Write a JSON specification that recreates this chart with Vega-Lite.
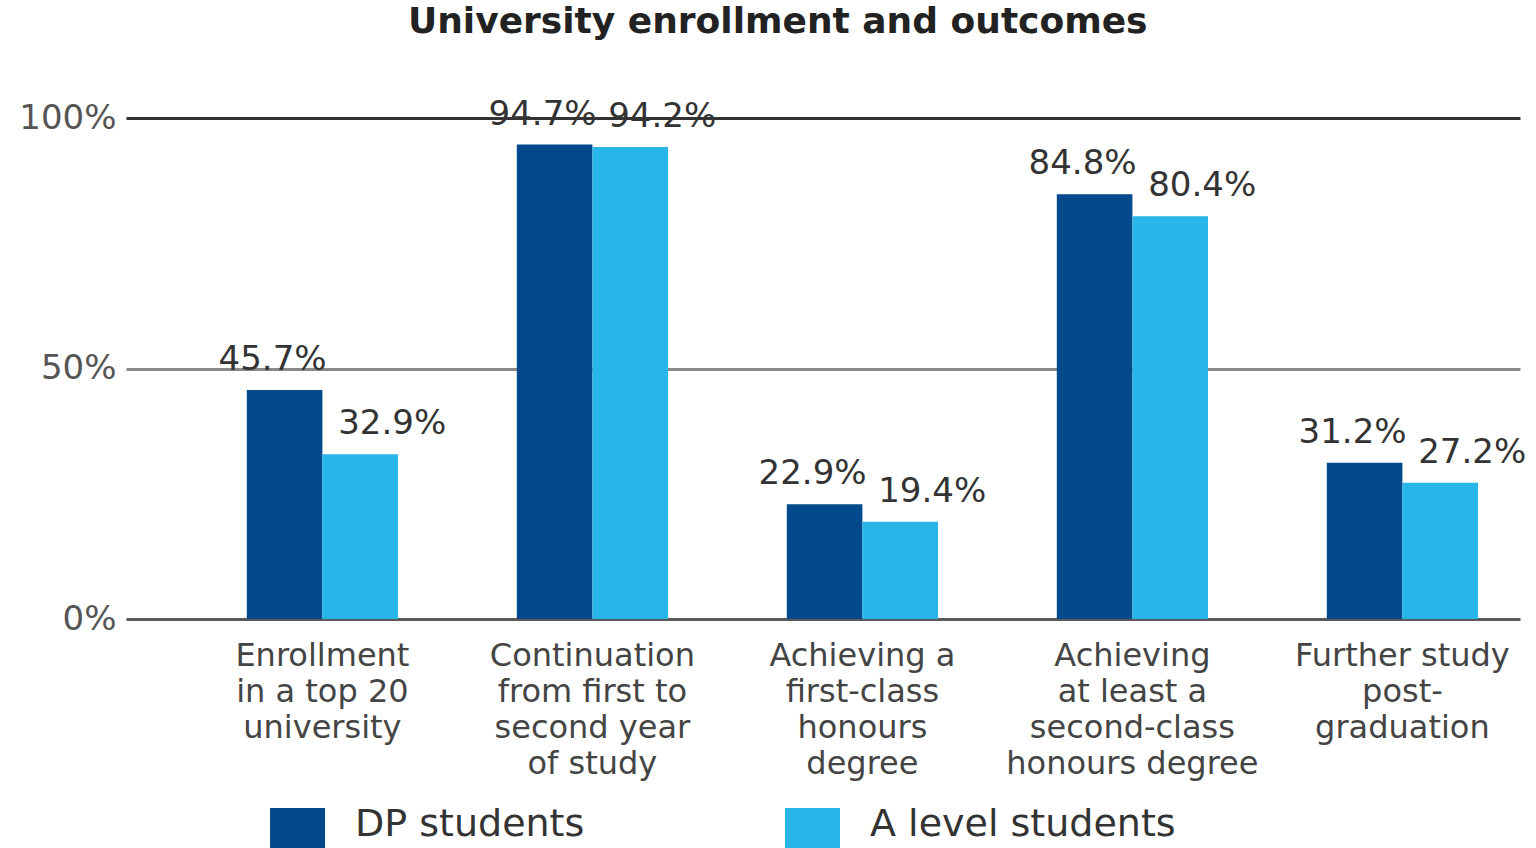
{
  "$schema": "https://vega.github.io/schema/vega-lite/v6.json",
  "width": 1394,
  "height": 501,
  "autosize": "none",
  "padding": {"left": 126, "top": 118, "right": 16, "bottom": 229},
  "background": "white",
  "title": {
    "text": "University enrollment and outcomes",
    "font": "DejaVu Sans",
    "fontSize": 36,
    "fontWeight": "bold",
    "color": "#222222",
    "anchor": "start",
    "frame": "group",
    "dx": 282,
    "offset": 57
  },
  "config": {"view": {"stroke": null}},
  "data": {
    "values": [
      {"category": "Enrollment|in a top 20|university", "group": "DP students", "value": 45.7, "label": "45.7%"},
      {"category": "Enrollment|in a top 20|university", "group": "A level students", "value": 32.9, "label": "32.9%"},
      {"category": "Continuation|from first to|second year|of study", "group": "DP students", "value": 94.7, "label": "94.7%"},
      {"category": "Continuation|from first to|second year|of study", "group": "A level students", "value": 94.2, "label": "94.2%"},
      {"category": "Achieving a|first-class|honours|degree", "group": "DP students", "value": 22.9, "label": "22.9%"},
      {"category": "Achieving a|first-class|honours|degree", "group": "A level students", "value": 19.4, "label": "19.4%"},
      {"category": "Achieving|at least a|second-class|honours degree", "group": "DP students", "value": 84.8, "label": "84.8%"},
      {"category": "Achieving|at least a|second-class|honours degree", "group": "A level students", "value": 80.4, "label": "80.4%"},
      {"category": "Further study|post-|graduation", "group": "DP students", "value": 31.2, "label": "31.2%"},
      {"category": "Further study|post-|graduation", "group": "A level students", "value": 27.2, "label": "27.2%"}
    ]
  },
  "encoding": {
    "x": {
      "field": "category",
      "type": "nominal",
      "sort": null,
      "scale": {"paddingInner": 0.44, "paddingOuter": 0.3015, "align": 0.742},
      "axis": {
        "title": null,
        "domain": false,
        "ticks": false,
        "labelAngle": 0,
        "labelExpr": "split(datum.label, '|')",
        "labelFont": "DejaVu Sans",
        "labelFontSize": 32,
        "labelLineHeight": 36,
        "labelPadding": 21,
        "labelBaseline": "top",
        "labelColor": "#444444",
        "labelLimit": 500
      }
    },
    "y": {
      "field": "value",
      "type": "quantitative",
      "scale": {"domain": [0, 100]},
      "axis": {
        "title": null,
        "values": [0, 50, 100],
        "labelExpr": "datum.value + '%'",
        "domain": false,
        "ticks": false,
        "labelPadding": 10,
        "labelFont": "DejaVu Sans",
        "labelFontSize": 34,
        "labelColor": "#555555",
        "grid": true,
        "gridWidth": 3,
        "gridOpacity": 1,
        "gridColor": {
          "condition": [
            {"test": "datum.value === 100", "value": "#333333"},
            {"test": "datum.value === 0", "value": "#5a5a5a"}
          ],
          "value": "#8a8a8a"
        }
      }
    },
    "xOffset": {
      "field": "group",
      "type": "nominal",
      "sort": ["DP students", "A level students"],
      "scale": {"paddingInner": 0, "paddingOuter": 0}
    }
  },
  "layer": [
    {
      "mark": {"type": "bar", "strokeWidth": 0},
      "encoding": {
        "color": {
          "field": "group",
          "type": "nominal",
          "scale": {"domain": ["DP students", "A level students"], "range": ["#024a8b", "#28b5e8"]},
          "legend": {
            "title": null,
            "orient": "none",
            "legendX": 144,
            "legendY": 690,
            "direction": "horizontal",
            "columns": 2,
            "columnPadding": 200,
            "symbolType": "square",
            "symbolSize": 3025,
            "symbolStrokeWidth": 0,
            "symbolOpacity": 1,
            "labelFont": "DejaVu Sans",
            "labelFontSize": 38,
            "labelBaseline": "alphabetic",
            "labelColor": "#333333",
            "labelOffset": 30,
            "labelLimit": 500
          }
        }
      }
    },
    {
      "transform": [{"filter": "datum.group === 'DP students'"}],
      "mark": {"type": "text", "dx": -12, "dy": -30, "baseline": "middle", "align": "center", "font": "DejaVu Sans", "fontSize": 34, "color": "#333333"},
      "encoding": {"text": {"field": "label", "type": "nominal"}}
    },
    {
      "transform": [{"filter": "datum.group === 'A level students'"}],
      "mark": {"type": "text", "dx": 32, "dy": -30, "baseline": "middle", "align": "center", "font": "DejaVu Sans", "fontSize": 34, "color": "#333333"},
      "encoding": {"text": {"field": "label", "type": "nominal"}}
    }
  ]
}
